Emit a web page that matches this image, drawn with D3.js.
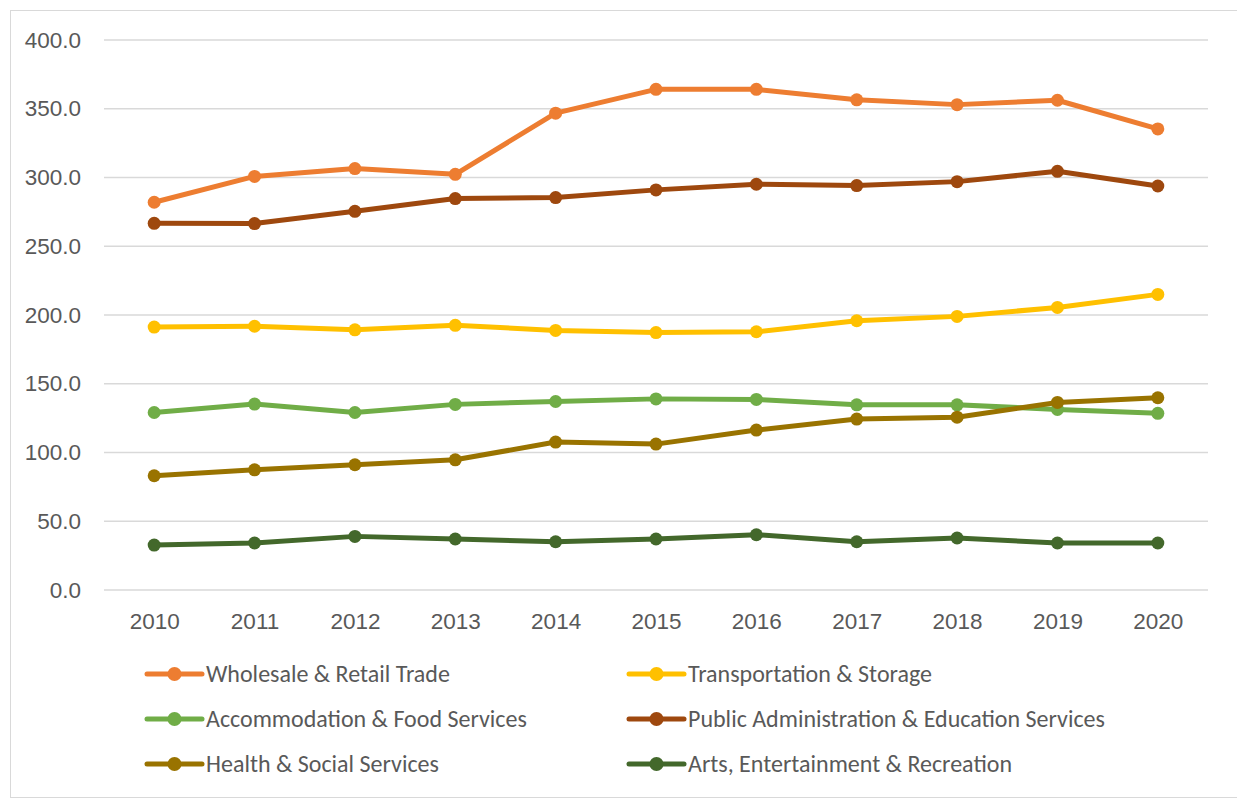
<!DOCTYPE html>
<html>
<head>
<meta charset="utf-8">
<script src="https://cdn.jsdelivr.net/npm/d3@7"></script>
<style>
  body { margin: 0; background: #fff; }
  svg { display: block; font-family: Calibri, Carlito, "Open Sans", sans-serif; }
</style>
</head>
<body>
<div id="chart"></div>
<script>
// line chart: employment-type series by year, Excel style
const years = ["2010","2011","2012","2013","2014","2015","2016","2017","2018","2019","2020"];
const yTicks = [0, 50, 100, 150, 200, 250, 300, 350, 400];

const seriesNames = [
  "Wholesale & Retail Trade",
  "Transportation & Storage",
  "Accommodation & Food Services",
  "Public Administration & Education Services",
  "Health & Social Services",
  "Arts, Entertainment & Recreation"
];
const seriesColors = ["#ED7D31", "#FFC000", "#70AD47", "#9E480E", "#997300", "#43682B"];

const wholesale      = [282.0, 300.8, 306.5, 302.3, 346.8, 364.1, 364.1, 356.5, 353.0, 356.2, 335.3];
const transportation = [191.2, 191.8, 189.2, 192.5, 188.8, 187.2, 187.8, 195.8, 199.0, 205.5, 215.0];
const accommodation  = [129.1, 135.2, 129.1, 135.0, 137.1, 139.0, 138.6, 134.7, 134.7, 131.3, 128.5];
const publicAdmin    = [266.7, 266.5, 275.4, 284.7, 285.4, 291.0, 295.1, 294.1, 297.0, 304.5, 293.8];
const health         = [83.1, 87.4, 91.1, 94.7, 107.6, 106.1, 116.3, 124.3, 125.7, 136.4, 139.8];
const arts           = [32.7, 34.2, 39.0, 37.1, 35.1, 37.1, 40.2, 35.1, 37.8, 34.2, 34.2];

const seriesValues = [wholesale, transportation, accommodation, publicAdmin, health, arts];

(function(){
  const width = 1237, height = 799;
  const svg = d3.select("#chart").append("svg")
    .attr("width", width)
    .attr("height", height);

  // chart area border
  svg.append("rect")
    .attr("x", 10.5).attr("y", 10.5)
    .attr("width", 1240).attr("height", 787)
    .attr("fill", "#fff")
    .attr("stroke", "#D9D9D9")
    .attr("stroke-width", 1);

  const plot = {left: 104, right: 1208, top: 40, bottom: 590};

  const x = d3.scalePoint()
    .domain(years)
    .range([plot.left, plot.right])
    .padding(0.5);

  const y = d3.scaleLinear()
    .domain([0, 400])
    .range([plot.bottom, plot.top]);

  // gridlines
  svg.append("g")
    .selectAll("line")
    .data(yTicks)
    .join("line")
    .attr("x1", plot.left).attr("x2", plot.right)
    .attr("y1", d => y(d)).attr("y2", d => y(d))
    .attr("stroke", "#D9D9D9")
    .attr("stroke-width", 1.5);

  // y axis labels
  const yAxis = svg.append("g")
    .attr("transform", `translate(${plot.left},0)`)
    .call(d3.axisLeft(y).tickValues(yTicks).tickFormat(d3.format(".1f")).tickSize(0).tickPadding(23));
  yAxis.select(".domain").remove();
  yAxis.selectAll("text")
    .attr("fill", "#595959")
    .style("font-size", "22.5px");

  // x axis labels
  const xAxis = svg.append("g")
    .attr("transform", `translate(0,${plot.bottom})`)
    .call(d3.axisBottom(x).tickSize(0).tickPadding(23));
  xAxis.select(".domain").remove();
  xAxis.selectAll("text")
    .attr("fill", "#595959")
    .style("font-size", "22.5px");

  const line = d3.line()
    .x((d, i) => x(years[i]))
    .y(d => y(d));

  seriesValues.forEach((vals, s) => {
    const g = svg.append("g");
    g.append("path")
      .datum(vals)
      .attr("fill", "none")
      .attr("stroke", seriesColors[s])
      .attr("stroke-width", 5)
      .attr("stroke-linejoin", "round")
      .attr("d", line);
    g.selectAll("circle")
      .data(vals)
      .join("circle")
      .attr("cx", (d, i) => x(years[i]))
      .attr("cy", d => y(d))
      .attr("r", 6.5)
      .attr("fill", seriesColors[s]);
  });

  // legend, two columns
  const legendCols = [147, 629];
  const legendRows = [674, 719, 764];
  seriesNames.forEach((name, i) => {
    const lx = legendCols[i % 2];
    const ly = legendRows[Math.floor(i / 2)];
    const item = svg.append("g").attr("transform", `translate(${lx},${ly})`);
    item.append("line")
      .attr("x1", 0).attr("x2", 55)
      .attr("stroke", seriesColors[i])
      .attr("stroke-width", 5)
      .attr("stroke-linecap", "round");
    item.append("circle")
      .attr("cx", 27.5)
      .attr("r", 7)
      .attr("fill", seriesColors[i]);
    item.append("text")
      .attr("x", 59)
      .attr("dy", "0.35em")
      .attr("fill", "#595959")
      .style("font-size", "24px")
      .text(name);
  });
})();
</script>
</body>
</html>
